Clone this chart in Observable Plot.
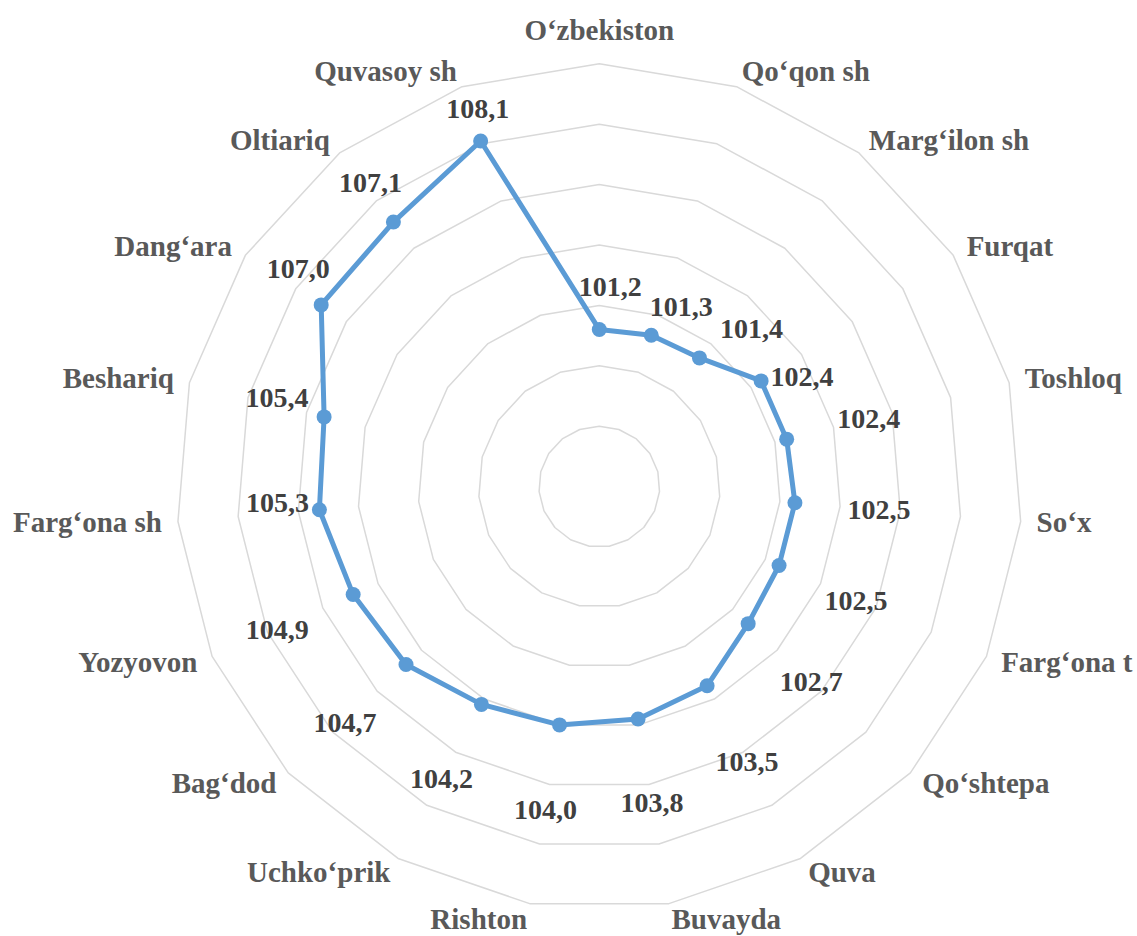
<!DOCTYPE html>
<html><head><meta charset="utf-8">
<script src="https://cdn.jsdelivr.net/npm/d3@7"></script>
<script src="https://cdn.jsdelivr.net/npm/@observablehq/plot@0.6"></script>
<style>html,body{margin:0;padding:0;background:#fff}#chart svg{display:block;overflow:visible}</style>
</head><body><div id="chart"></div>
<script>
// ---- data ----
const categories = ["O‘zbekiston","Qo‘qon sh","Marg‘ilon sh","Furqat","Toshloq","So‘x","Farg‘ona t","Qo‘shtepa","Quva","Buvayda","Rishton","Uchko‘prik","Bag‘dod","Yozyovon","Farg‘ona sh","Beshariq","Dang‘ara","Oltiariq","Quvasoy sh"];
const values = [101.2,101.3,101.4,102.4,102.4,102.5,102.5,102.7,103.5,103.8,104.0,104.2,104.7,104.9,105.3,105.4,107.0,107.1,108.1];
const ringLevels = [98,100,102,104,106,108,110];
const axisMin = 96, axisMax = 110;
// layout only: nudges (px) of each value label from its point
const labelNudge = [[11,-43],[30,-28],[52,-29],[41,-4],[82,-20],[84,7],[77,36],[63,58],[40,76],[14,84],[-14,85],[-40,75],[-61,58],[-76,35],[-42,-7],[-47,-19],[-23,-36],[-23,-39],[-3,-32]];

// ---- geometry ----
const W = 1137, H = 936, cx = 598.8, cy = 486.1, K = 30.2; // px per value unit
const n = categories.length;
const ang = i => i * 2 * Math.PI / n;
const px = (r, i) => r * Math.sin(ang(i));
const py = (r, i) => r * Math.cos(ang(i));

const rings = [];
for (const lv of ringLevels) for (let i = 0; i <= n; i++) rings.push({level: lv, i: i % n, r: lv - axisMin});
const series = values.map((v, i) => ({i, v, r: v - axisMin, cat: categories[i]}));
const seriesClosed = [...series, series[0]];

const labR = (axisMax - axisMin) + 16 / K;
const cats = categories.map((c, i) => ({i, c, s: Math.sin(ang(i))}));
const font = "Liberation Serif, Times New Roman, serif";
const fmt = v => d3.format(".1f")(v).replace(".", ",");

const chart = Plot.plot({
  width: W, height: H,
  marginTop: 0, marginRight: 0, marginBottom: 0, marginLeft: 0,
  x: {domain: [-cx / K, (W - cx) / K], axis: null},
  y: {domain: [-(H - cy) / K, cy / K], axis: null},
  style: {background: "#fff"},
  marks: [
    Plot.line(rings, {x: d => px(d.r, d.i), y: d => py(d.r, d.i), z: "level", stroke: "#d9d9d9", strokeWidth: 1.5}),
    Plot.line(seriesClosed, {x: d => px(d.r, d.i), y: d => py(d.r, d.i), stroke: "#5b9bd5", strokeWidth: 5, strokeLinejoin: "round"}),
    Plot.dot(series, {x: d => px(d.r, d.i), y: d => py(d.r, d.i), r: 7.5, fill: "#5b9bd5"}),
    Plot.text(series, {x: d => px(d.r, d.i) + labelNudge[d.i][0] / K, y: d => py(d.r, d.i) - labelNudge[d.i][1] / K,
      text: d => fmt(d.v), fontSize: 28, fontWeight: "bold", fill: "#404040", fontFamily: font}),
    Plot.text(cats.filter(d => Math.abs(d.s) < 0.1), {x: d => px(labR, d.i), y: d => py(labR, d.i), text: "c",
      textAnchor: "middle", lineAnchor: "bottom", dy: -8, fontSize: 29, fontWeight: "bold", fill: "#595959", fontFamily: font}),
    Plot.text(cats.filter(d => d.s >= 0.1), {x: d => px(labR, d.i), y: d => py(labR, d.i), text: "c",
      textAnchor: "start", fontSize: 29, fontWeight: "bold", fill: "#595959", fontFamily: font}),
    Plot.text(cats.filter(d => d.s <= -0.1), {x: d => px(labR, d.i), y: d => py(labR, d.i), text: "c",
      textAnchor: "end", fontSize: 29, fontWeight: "bold", fill: "#595959", fontFamily: font})
  ]
});
document.getElementById("chart").appendChild(chart);
</script>
</body></html>
